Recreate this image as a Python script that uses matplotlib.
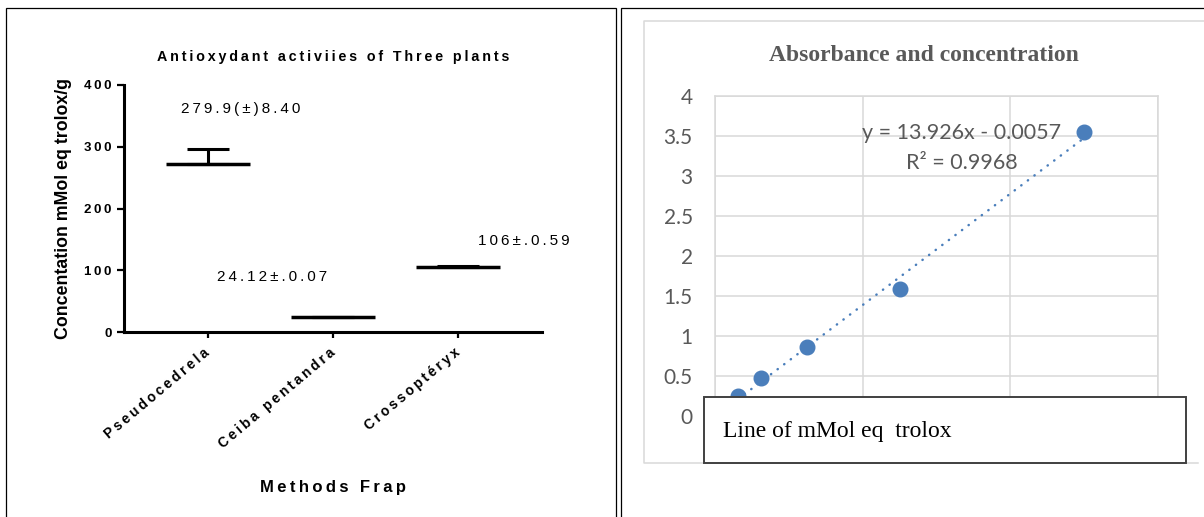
import matplotlib
matplotlib.use("Agg")
import matplotlib.pyplot as plt
from matplotlib.patches import Rectangle
from matplotlib.lines import Line2D
from matplotlib.ticker import FuncFormatter

# ---- left chart data (Prism style, FRAP) ----
plants = ["Pseudocedrela", "Ceiba pentandra", "Crossoptéryx"]
means = [272, 24, 106]
sd_up = [24, 0.5, 1.5]
notes = ["279.9(±)8.40", "24.12±.0.07", "106±.0.59"]
note_x = [0.26, 0.51, 2.53]
note_y = [361, 89, 148]
left_yticks = [0, 100, 200, 300, 400]

# ---- right chart data (Excel calibration curve) ----
conc = [0.015625, 0.03125, 0.0625, 0.125, 0.25]
absorb = [0.25, 0.47, 0.866, 1.59, 3.55]
slope, intercept = 13.926, -0.0057
r2 = 0.9968

W, H = 1204, 517
SANS = ["Liberation Sans", "DejaVu Sans"]
BLUE = "#4a7ebb"
GRID = "#d9d9d9"
GREY_TXT = "#595959"


def spaced(s, sep="\u2009"):
    return sep.join(s)


def px(x, y):
    # pixel position (from top-left) -> figure fraction
    return x / W, 1 - y / H


fig = plt.figure(figsize=(W / 100, H / 100), dpi=100)

# ---------------- left chart ----------------
ax = fig.add_axes([124 / W, 1 - 332.3 / H, 418 / W, (332.3 - 84.7) / H])
xs = list(range(len(plants)))
ax.hlines(means, [x - 0.336 for x in xs], [x + 0.336 for x in xs],
          colors="black", lw=2.5, zorder=3)
ax.errorbar(xs, means, yerr=[[0] * len(xs), sd_up], fmt="none", ecolor="black",
            elinewidth=2.2, capsize=15, capthick=2.2, zorder=3)
ax.set_xlim(-0.672, 2.672)
ax.set_ylim(0, 400)
for side in ["top", "right"]:
    ax.spines[side].set_visible(False)
for side in ["left", "bottom"]:
    ax.spines[side].set_linewidth(2.2)
ax.set_yticks(left_yticks, labels=[spaced(str(t)) for t in left_yticks])
ax.set_xticks(xs, labels=[spaced(p) for p in plants])
ax.tick_params(axis="y", length=5, width=1.6, pad=4)
ax.tick_params(axis="x", length=4.5, width=1.6, pad=9)
for lab in ax.get_yticklabels():
    lab.set_fontfamily(SANS)
    lab.set_fontweight("bold")
    lab.set_fontsize(9.5)
for lab in ax.get_xticklabels():
    lab.set_fontfamily(SANS)
    lab.set_fontweight("bold")
    lab.set_fontsize(10)
    lab.set_rotation(40)
    lab.set_ha("right")
    lab.set_va("center")
    lab.set_rotation_mode("anchor")

for t, x, y in zip(notes, note_x, note_y):
    ax.text(x, y, spaced(t), ha="center", va="center", fontsize=11,
            family=SANS)

ax.set_title(spaced("Antioxydant activiies of Three plants"), family=SANS,
             fontweight="bold", fontsize=10.3, y=1.062)
ax.set_ylabel("Concentation mMol eq trolox/g", family=SANS, fontweight="bold",
              fontsize=12.8)
ax.yaxis.set_label_coords(-0.125, 0.5)
ax.set_xlabel(spaced("Methods Frap"), family=SANS, fontweight="bold",
              fontsize=12)
ax.xaxis.set_label_coords(0.5, -0.597)

# ---------------- right chart ----------------
ax2 = fig.add_axes([715 / W, 1 - 416 / H, 443 / W, 320 / H])
ax2.set_xlim(0, 0.3)
ax2.set_ylim(0, 4)
ax2.set_xticks([0, 0.1, 0.2, 0.3])
ax2.set_yticks([i * 0.5 for i in range(9)])
ax2.grid(True, color=GRID, lw=1.1)
ax2.set_axisbelow(True)
for s in ax2.spines.values():
    s.set_color(GRID)
    s.set_linewidth(1.1)
ax2.tick_params(length=0, labelsize=15, labelcolor=GREY_TXT, pad=16)
ax2.tick_params(axis="x", labelbottom=False)
ax2.yaxis.set_major_formatter(FuncFormatter(lambda v, p: f"{v:g}"))
for lab in ax2.get_yticklabels():
    lab.set_fontfamily("Lato")

x_fit = [min(conc), max(conc)]
y_fit = [slope * v + intercept for v in x_fit]
ax2.plot(x_fit, y_fit, color=BLUE, lw=1.8, linestyle=(0, (0.1, 3.2)),
         dash_capstyle="round", zorder=2)
ax2.plot(conc, absorb, "o", color=BLUE, ms=10.5, zorder=3, clip_on=False)

ax2.text(0.5576, 0.838, f"y = {slope}x - {abs(intercept)}\nR² = {r2}",
         transform=ax2.transAxes, ha="center", va="center", ma="center",
         fontsize=15.5, color=GREY_TXT, family="Lato", linespacing=1.65)
ax2.text(0.4718, 1.128, "Absorbance and concentration", transform=ax2.transAxes,
         ha="center", va="center", fontsize=17, fontweight="bold",
         color=GREY_TXT, family="Liberation Serif")

# ---------------- frames ----------------
x0, y0 = px(6, 8)
x1, y1 = px(616, 530)
fig.add_artist(Rectangle((x0, y1), x1 - x0, y0 - y1, transform=fig.transFigure,
                         fill=False, ec="black", lw=0.9))
xa, ya = px(621, 7.5)
xb, yb = px(1210, 530)
fig.add_artist(Rectangle((xa, yb), xb - xa, ya - yb, transform=fig.transFigure,
                         fill=False, ec="black", lw=0.9))
pts = [px(1204, 21), px(644, 21), px(644, 463), px(1198, 463)]
fig.add_artist(Line2D([p[0] for p in pts], [p[1] for p in pts],
                      transform=fig.transFigure, color=GRID, lw=1.1))

bx0, by0 = px(704, 396.7)
bx1, by1 = px(1186, 463)
fig.add_artist(Rectangle((bx0, by1), bx1 - bx0, by0 - by1,
                         transform=fig.transFigure, fc="white", ec="#404040",
                         lw=1.4, zorder=5))
tx, ty = px(723, 431.7)
fig.text(tx, ty, "Line of mMol eq  trolox", ha="left", va="center",
         fontsize=17, family="Liberation Serif", zorder=6)

fig.savefig("out.png", dpi=100)
